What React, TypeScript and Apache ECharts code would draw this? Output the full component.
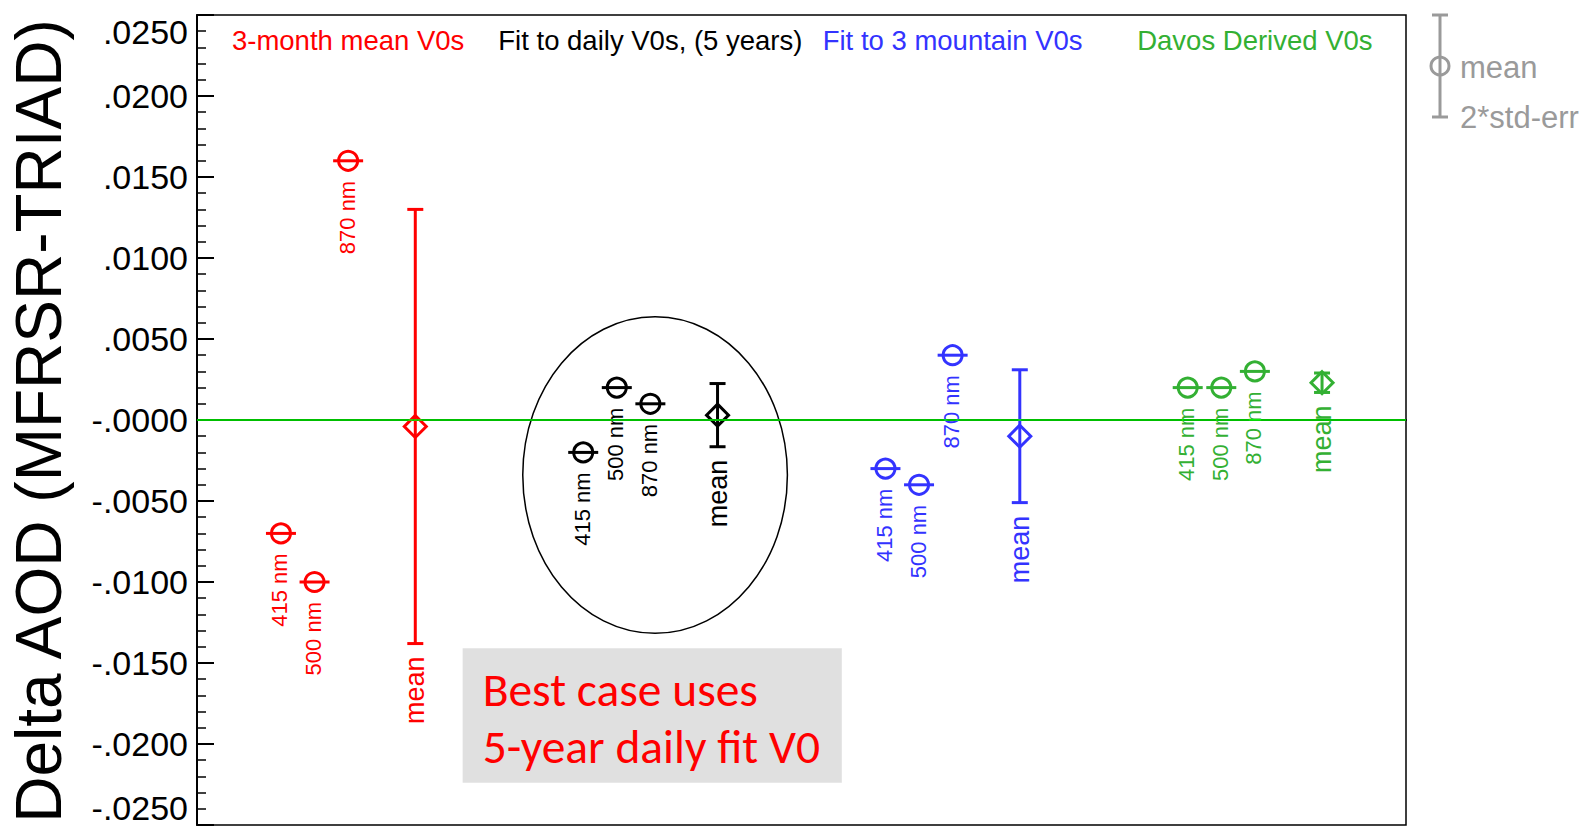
import React, { useEffect, useRef } from 'react';
import * as echarts from 'echarts';

const FONT = '"Liberation Sans", Arial, Helvetica, sans-serif';

const groupNames = ['3-month mean V0s', 'Fit to daily V0s, (5 years)', 'Fit to 3 mountain V0s', 'Davos Derived V0s'];
const groupColors = ['#ff0000', '#000000', '#3333ff', '#33b033'];
const wavelengths = ['415 nm', '500 nm', '870 nm'];

// x positions (plot units) and Delta AOD values for each wavelength
const pointX = [
  [2.5, 3.5, 4.5],
  [11.5, 12.5, 13.5],
  [20.5, 21.5, 22.5],
  [29.5, 30.5, 31.5],
];
const pointY = [
  [-0.0070, -0.0100, 0.0160],
  [-0.0020, 0.0020, 0.0010],
  [-0.0030, -0.0040, 0.0040],
  [0.0020, 0.0020, 0.0030],
];
const meanX = [6.5, 15.5, 24.5, 33.5];
const meanY = [-0.0004, 0.0003, -0.0010, 0.0023];
const meanErr = [0.0134, 0.00195, 0.0041, 0.0006];

const xMin = 0;
const xMax = 36;
const yMin = -0.025;
const yMax = 0.025;
const yStep = 0.005;

const yTitle = 'Delta AOD (MFRSR-TRIAD)';
const noteLines = ['Best case uses', '5-year daily fit V0'];
// annotation ellipse (data units): center and radii
const ellipseCenter = [13.64, -0.0034];
const ellipseRadius = [3.94, 0.00977];
// annotation box (data units): corners
const boxFrom = [7.91, -0.01409];
const boxTo = [19.2, -0.02239];

function fmtTick(v: number): string {
  if (Math.abs(v) < 1e-12) return '-.0000';
  return (v < 0 ? '-' : '') + Math.abs(v).toFixed(4).slice(1);
}

export default function App() {
  const ref = useRef<HTMLDivElement>(null);

  useEffect(() => {
    if (!ref.current) return;
    const chart = echarts.init(ref.current, undefined, { renderer: 'svg' });

    const pointData: number[][] = [];
    pointX.forEach((xs, g) => xs.forEach((x, w) => pointData.push([x, pointY[g][w], g, w])));
    const meanData = meanX.map((x, g) => [x, meanY[g], meanErr[g], g]);

    const option: any = {
      animation: false,
      backgroundColor: '#ffffff',
      textStyle: { fontFamily: FONT },
      grid: {
        left: 197,
        top: 15,
        right: 185,
        bottom: 2,
        show: true,
        borderColor: '#000',
        borderWidth: 1.5,
        backgroundColor: 'transparent',
      },
      xAxis: {
        type: 'value',
        min: xMin,
        max: xMax,
        axisLine: { show: true, lineStyle: { color: '#000', width: 2 } },
        axisTick: { show: false },
        axisLabel: { show: false },
        splitLine: { show: false },
      },
      yAxis: {
        type: 'value',
        min: yMin,
        max: yMax,
        interval: yStep,
        axisLine: { show: true, lineStyle: { color: '#000', width: 2 } },
        axisTick: { show: true, inside: true, length: 17, lineStyle: { color: '#000', width: 2 } },
        minorTick: { show: true, splitNumber: 5, length: 9, lineStyle: { color: '#000', width: 1.5 } },
        splitLine: { show: false },
        axisLabel: {
          color: '#000',
          fontSize: 34,
          fontFamily: FONT,
          margin: 9,
          verticalAlignMinLabel: 'bottom',
          verticalAlignMaxLabel: 'top',
          formatter: (v: number) => fmtTick(v),
        },
      },
      series: [
        {
          type: 'custom',
          name: 'points',
          data: pointData,
          z: 3,
          renderItem: (params: any, api: any) => {
            const p = api.coord([api.value(0), api.value(1)]);
            const g = api.value(2);
            const w = api.value(3);
            const color = groupColors[g];
            const lw = 3;
            return {
              type: 'group',
              children: [
                {
                  type: 'circle',
                  shape: { cx: p[0], cy: p[1], r: 9.5 },
                  style: { stroke: color, fill: 'none', lineWidth: lw },
                },
                {
                  type: 'line',
                  shape: { x1: p[0] - 15, y1: p[1], x2: p[0] + 15, y2: p[1] },
                  style: { stroke: color, lineWidth: lw },
                },
                {
                  type: 'text',
                  x: p[0] - 1,
                  y: p[1] + 20,
                  rotation: Math.PI / 2,
                  style: {
                    text: wavelengths[w],
                    fill: color,
                    fontSize: 22,
                    fontFamily: FONT,
                    align: 'right',
                    verticalAlign: 'middle',
                  },
                },
              ],
            };
          },
          markLine: {
            silent: true,
            symbol: 'none',
            animation: false,
            label: { show: false },
            lineStyle: { color: '#00ff00', width: 1.5, type: 'solid' },
            data: [{ yAxis: 0 }],
          },
        },
        {
          type: 'custom',
          name: 'means',
          data: meanData,
          z: 4,
          renderItem: (params: any, api: any) => {
            const c = api.coord([api.value(0), api.value(1)]);
            const top = api.coord([api.value(0), api.value(1) + api.value(2)]);
            const bot = api.coord([api.value(0), api.value(1) - api.value(2)]);
            const g = api.value(3);
            const color = groupColors[g];
            const lw = 3;
            const d = 11;
            return {
              type: 'group',
              children: [
                {
                  type: 'line',
                  shape: { x1: c[0], y1: top[1], x2: c[0], y2: bot[1] },
                  style: { stroke: color, lineWidth: lw },
                },
                {
                  type: 'line',
                  shape: { x1: c[0] - 8, y1: top[1], x2: c[0] + 8, y2: top[1] },
                  style: { stroke: color, lineWidth: lw },
                },
                {
                  type: 'line',
                  shape: { x1: c[0] - 8, y1: bot[1], x2: c[0] + 8, y2: bot[1] },
                  style: { stroke: color, lineWidth: lw },
                },
                {
                  type: 'polygon',
                  shape: { points: [[c[0], c[1] - d], [c[0] + d, c[1]], [c[0], c[1] + d], [c[0] - d, c[1]]] },
                  style: { stroke: color, fill: 'none', lineWidth: lw },
                },
                {
                  type: 'text',
                  x: c[0],
                  y: bot[1] + 13,
                  rotation: Math.PI / 2,
                  style: {
                    text: 'mean',
                    fill: color,
                    fontSize: 27,
                    fontFamily: FONT,
                    align: 'right',
                    verticalAlign: 'middle',
                  },
                },
              ],
            };
          },
        },
      ],
    };

    chart.setOption(option);

    const toPx = (v: number[]) => chart.convertToPixel({ gridIndex: 0 }, v) as number[];
    const ec = toPx(ellipseCenter);
    const ee = toPx([ellipseCenter[0] + ellipseRadius[0], ellipseCenter[1] + ellipseRadius[1]]);
    const b0 = toPx(boxFrom);
    const b1 = toPx(boxTo);

    const gray = '#9a9a9a';
    const elements: any[] = [
      {
        type: 'text',
        x: 39,
        y: 421,
        rotation: Math.PI / 2,
        style: {
          text: yTitle,
          fill: '#000',
          fontSize: 64,
          fontFamily: FONT,
          align: 'center',
          verticalAlign: 'middle',
          textAlign: 'center',
          textVerticalAlign: 'middle',
        },
      },
      {
        type: 'ellipse',
        shape: { cx: ec[0], cy: ec[1], rx: ee[0] - ec[0], ry: ec[1] - ee[1] },
        style: { stroke: '#000', fill: 'none', lineWidth: 1.5 },
        z: 2,
      },
      {
        type: 'rect',
        shape: { x: b0[0], y: b0[1], width: b1[0] - b0[0], height: b1[1] - b0[1] },
        style: { fill: '#e0e0e0' },
        z: 1,
      },
      ...noteLines.map((t, i) => ({
        type: 'text',
        x: b0[0] + 20,
        y: b0[1] + 42 + i * 57,
        z: 2,
        style: {
          text: t,
          fill: '#ff0000',
          fontSize: 47.5,
          fontFamily: 'Carlito, Calibri, Lato, sans-serif',
          align: 'left',
          verticalAlign: 'middle',
          textAlign: 'left',
          textVerticalAlign: 'middle',
        },
      })),
      ...groupNames.map((name, g) => {
        const p = toPx([pointX[g][2], 0]);
        return {
          type: 'text',
          x: p[0],
          y: 40,
          z: 5,
          style: {
            text: name,
            fill: groupColors[g],
            fontSize: 27.5,
            fontFamily: FONT,
            align: 'center',
            verticalAlign: 'middle',
            textAlign: 'center',
            textVerticalAlign: 'middle',
          },
        };
      }),
      // key for the symbols
      { type: 'line', shape: { x1: 1440, y1: 15, x2: 1440, y2: 117 }, style: { stroke: gray, lineWidth: 3 } },
      { type: 'line', shape: { x1: 1432, y1: 15, x2: 1448, y2: 15 }, style: { stroke: gray, lineWidth: 3 } },
      { type: 'line', shape: { x1: 1432, y1: 117, x2: 1448, y2: 117 }, style: { stroke: gray, lineWidth: 3 } },
      { type: 'circle', shape: { cx: 1440, cy: 66, r: 9 }, style: { stroke: gray, fill: 'none', lineWidth: 3 } },
      {
        type: 'text',
        x: 1460,
        y: 67,
        style: {
          text: 'mean', fill: gray, fontSize: 31, fontFamily: FONT,
          align: 'left', verticalAlign: 'middle', textAlign: 'left', textVerticalAlign: 'middle',
        },
      },
      {
        type: 'text',
        x: 1460,
        y: 117,
        style: {
          text: '2*std-err', fill: gray, fontSize: 31, fontFamily: FONT,
          align: 'left', verticalAlign: 'middle', textAlign: 'left', textVerticalAlign: 'middle',
        },
      },
    ];

    chart.setOption({ graphic: { elements } });

    return () => {
      chart.dispose();
    };
  }, []);

  return (
    <div
      ref={ref}
      style={{ position: 'fixed', left: 0, top: 0, width: 1591, height: 827, background: '#fff' }}
    />
  );
}
